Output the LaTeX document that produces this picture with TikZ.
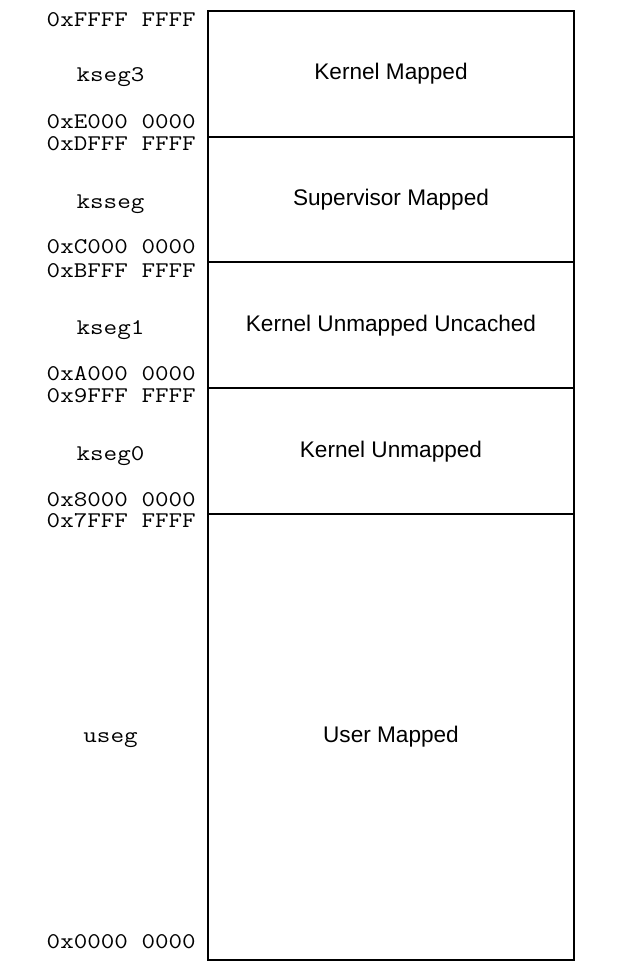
\documentclass[tikz,border=0pt]{standalone}
\usepackage{fontspec}
\setmainfont{Liberation Sans}
\newfontfamily\addrfont{Latin Modern Mono}[FakeStretch=1.175]
\begin{document}
\begin{tikzpicture}[x=1pt,y=-1pt,
  segbox/.style={draw=black,line width=2.6pt,minimum width=366pt,anchor=north west,inner sep=0pt,outer sep=0pt},
  seglabel/.style={font=\fontsize{22.6}{26}\selectfont,anchor=base,inner sep=0pt},
  addr/.style={font=\addrfont\fontsize{22.4}{26}\selectfont,anchor=base east,inner sep=0pt},
  segname/.style={font=\addrfont\fontsize{22.4}{26}\selectfont,anchor=base,inner sep=0pt}]
\useasboundingbox (0,0) rectangle (623,976);
% boxes
\node[segbox,minimum height=126pt] (s3) at (208,11) {};
\node[segbox,minimum height=125pt] (ss) at (208,137) {};
\node[segbox,minimum height=126pt] (s1) at (208,262) {};
\node[segbox,minimum height=126pt] (s0) at (208,388) {};
\node[segbox,minimum height=446pt] (us) at (208,514) {};
% region labels
\node[seglabel] (l3) at (391,80) {Kernel Mapped};
\node[seglabel] (lss) at (391,205.5) {Supervisor Mapped};
\node[seglabel] (l1) at (391,331) {Kernel Unmapped Uncached};
\node[seglabel] (l0) at (391,457) {Kernel Unmapped};
\node[seglabel] (lus) at (391,742) {User Mapped};
% segment names
\node[segname] (n3) at (110.5,82) {kseg3};
\node[segname] (nss) at (110.5,209) {ksseg};
\node[segname] (n1) at (110.5,334) {kseg1};
\node[segname] (n0) at (110.5,460) {kseg0};
\node[segname] (nus) at (110.5,742) {useg};
% addresses
\node[addr] (a1) at (196,27) {0xFFFF FFFF};
\node[addr] (a2) at (196,129) {0xE000 0000};
\node[addr] (a3) at (196,151) {0xDFFF FFFF};
\node[addr] (a4) at (196,254) {0xC000 0000};
\node[addr] (a5) at (196,277) {0xBFFF FFFF};
\node[addr] (a6) at (196,380) {0xA000 0000};
\node[addr] (a7) at (196,402) {0x9FFF FFFF};
\node[addr] (a8) at (196,506) {0x8000 0000};
\node[addr] (a9) at (196,527) {0x7FFF FFFF};
\node[addr] (a10) at (196,948) {0x0000 0000};
\end{tikzpicture}
\end{document}
